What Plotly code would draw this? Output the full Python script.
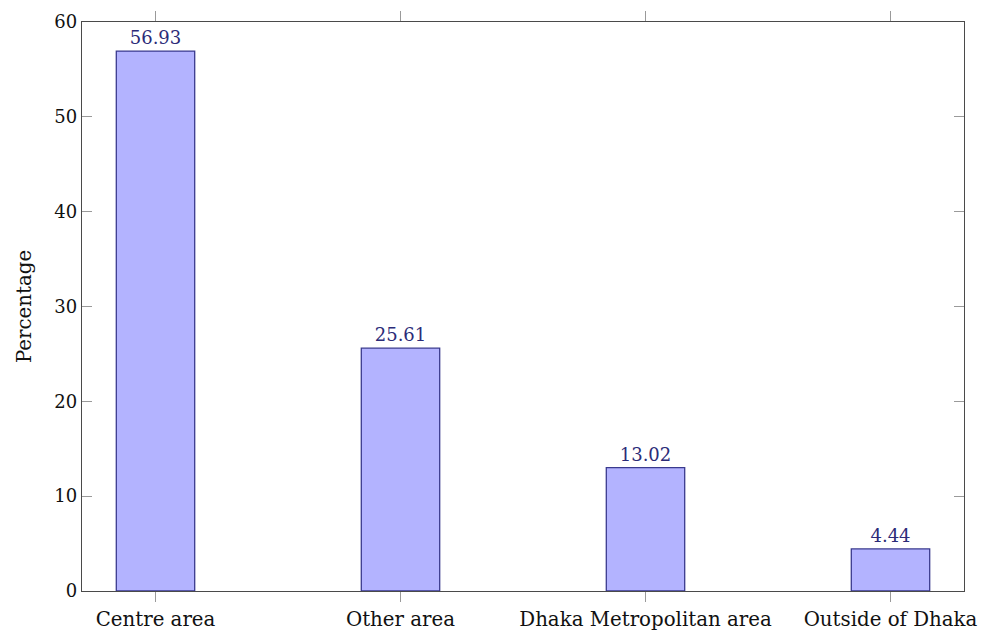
import plotly.graph_objects as go

# Share of respondents by location
categories = ["Centre area", "Other area", "Dhaka Metropolitan area", "Outside of Dhaka"]
percentages = [56.93, 25.61, 13.02, 4.44]
value_labels = ["56.93", "25.61", "13.02", "4.44"]
y_ticks = [0, 10, 20, 30, 40, 50, 60]

FONT = "DejaVu Serif"
AXIS_COLOR = "#4a4a4a"
TICK_COLOR = "#9a9a9a"
TEXT_COLOR = "#111111"

fig = go.Figure(
    go.Bar(
        x=list(range(len(categories))),
        y=percentages,
        width=0.32,
        text=value_labels,
        textposition="outside",
        textfont=dict(family=FONT, size=18, color="#2b2b78"),
        constraintext="none",
        cliponaxis=False,
        marker=dict(color="#b3b3ff", line=dict(color="#3a3a8e", width=1.3)),
        hoverinfo="skip",
    )
)

fig.update_layout(
    template="none",
    width=981,
    height=631,
    margin=dict(l=82, r=17, t=22, b=40),
    paper_bgcolor="white",
    plot_bgcolor="white",
    showlegend=False,
    font=dict(family=FONT, size=18, color=TEXT_COLOR),
)

fig.update_xaxes(
    automargin=False,
    tickmode="array",
    tickvals=list(range(len(categories))),
    ticktext=categories,
    range=[-0.3, 3.3],
    showgrid=False,
    zeroline=False,
    showline=True,
    linecolor=AXIS_COLOR,
    linewidth=1.4,
    mirror="ticks",
    ticks="outside",
    ticklen=10,
    tickcolor=TICK_COLOR,
    tickwidth=1,
    tickfont=dict(family=FONT, size=19.8, color=TEXT_COLOR),
)

fig.update_yaxes(
    automargin=False,
    title=dict(text="Percentage", font=dict(family=FONT, size=19.8, color=TEXT_COLOR), standoff=17),
    tickmode="array",
    tickvals=y_ticks,
    range=[0, 60],
    showgrid=False,
    zeroline=False,
    showline=True,
    linecolor=AXIS_COLOR,
    linewidth=1.4,
    mirror="ticks",
    ticks="inside",
    ticklen=10,
    tickcolor=TICK_COLOR,
    tickwidth=1,
    tickfont=dict(family=FONT, size=18, color=TEXT_COLOR),
)

fig.write_html("out.html")
